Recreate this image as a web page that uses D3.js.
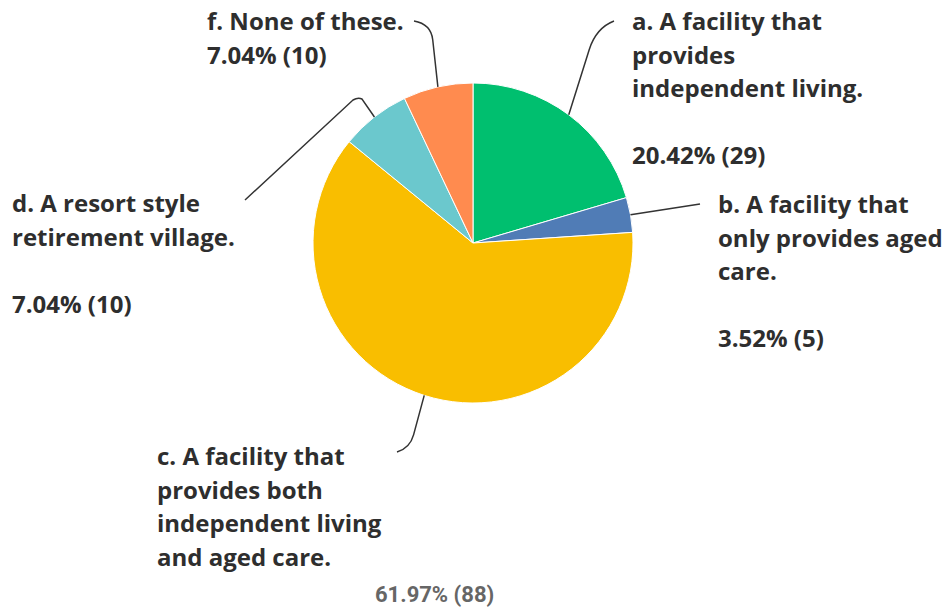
<!DOCTYPE html>
<html>
<head>
<meta charset="utf-8">
<script src="https://cdn.jsdelivr.net/npm/d3@7"></script>
<style>
  body { margin: 0; background: #fff; }
  text { font-family: "Open Sans", sans-serif; }
</style>
</head>
<body>
<div id="chart"></div>
<script>
// answer options, in the order the slices run clockwise from 12 o'clock
var keys = ["a", "b", "c", "d", "f"];
var counts = [29, 5, 88, 10, 10];
var colors = ["#00bf6f", "#507cb6", "#f9be00", "#6bc8cd", "#ff8b4f"];
var labels = [
  ["a. A facility that", "provides", "independent living."],
  ["b. A facility that", "only provides aged", "care."],
  ["c. A facility that", "provides both", "independent living", "and aged care."],
  ["d. A resort style", "retirement village."],
  ["f. None of these."]
];

var W = 948, H = 610;
var cx = 473, cy = 243, R = 160;
var lineH = 33.5;

// where each label block goes and how its leader line bends
var layout = {
  a: { x: 632, y: 30, gap: true, end: [614, 21], ctrl: [596, 28] },
  b: { x: 718, y: 213, gap: true, end: [700, 204], ctrl: null },
  c: { x: 157, y: 465, gap: false, end: [397, 452], ctrl: [410, 448], pct: [375, 602] },
  d: { x: 12, y: 212, gap: true, end: [245, 200], ctrl: null, bend: [358, 97] },
  f: { x: 207, y: 30, gap: false, end: [414, 21], ctrl: [431, 24] }
};

var total = d3.sum(counts);
var data = keys.map(function (k, i) {
  return { key: k, value: counts[i], color: colors[i], lines: labels[i] };
});

var svg = d3.select("#chart").append("svg")
  .attr("width", W).attr("height", H);

var pie = d3.pie().sort(null).value(function (d) { return d.value; });
var arcs = pie(data);
var arc = d3.arc().innerRadius(0).outerRadius(R);
var edge = d3.arc().innerRadius(R).outerRadius(R);

var g = svg.append("g").attr("transform", "translate(" + cx + "," + cy + ")");
g.selectAll("path.slice")
  .data(arcs)
  .enter().append("path")
  .attr("class", "slice")
  .attr("d", arc)
  .attr("fill", function (d) { return d.data.color; })
  .attr("stroke", "#fff")
  .attr("stroke-width", 1);

var fmt = d3.format(".2f");

arcs.forEach(function (a) {
  var L = layout[a.data.key];
  var p = edge.centroid(a);
  var sx = cx + p[0], sy = cy + p[1];
  var path = d3.path();
  path.moveTo(sx, sy);
  if (L.bend) {
    path.lineTo(L.bend[0] + 4, L.bend[1] + 2);
    path.quadraticCurveTo(L.bend[0], L.bend[1], L.bend[0] - 5, L.bend[1] + 3);
    path.lineTo(L.end[0], L.end[1]);
  } else if (L.ctrl) {
    var mx = L.ctrl[0] + (sx - L.ctrl[0]) * 0.25, my = L.ctrl[1] + (sy - L.ctrl[1]) * 0.25;
    path.lineTo(mx, my);
    path.quadraticCurveTo(L.ctrl[0], L.ctrl[1], L.end[0], L.end[1]);
  } else {
    path.lineTo(L.end[0], L.end[1]);
  }
  svg.append("path")
    .attr("d", path.toString())
    .attr("fill", "none")
    .attr("stroke", "#333")
    .attr("stroke-width", 1.5);

  var pctText = fmt(a.data.value / total * 100) + "% (" + a.data.value + ")";
  var lines = a.data.lines.slice();
  if (!L.pct) {
    if (L.gap) lines.push("");
    lines.push(pctText);
  }
  var t = svg.append("text")
    .attr("x", L.x).attr("y", L.y)
    .attr("fill", "#2e2e2e")
    .style("font-size", "24px")
    .style("font-weight", 700);
  lines.forEach(function (s, i) {
    t.append("tspan")
      .attr("x", L.x)
      .attr("y", L.y + i * lineH)
      .text(s);
  });
  if (L.pct) {
    svg.append("text")
      .attr("x", L.pct[0]).attr("y", L.pct[1])
      .attr("fill", "#666")
      .style("font-family", "Roboto, sans-serif")
      .style("font-size", "22px")
      .style("font-weight", 700)
      .text(pctText);
  }
});
</script>
</body>
</html>
